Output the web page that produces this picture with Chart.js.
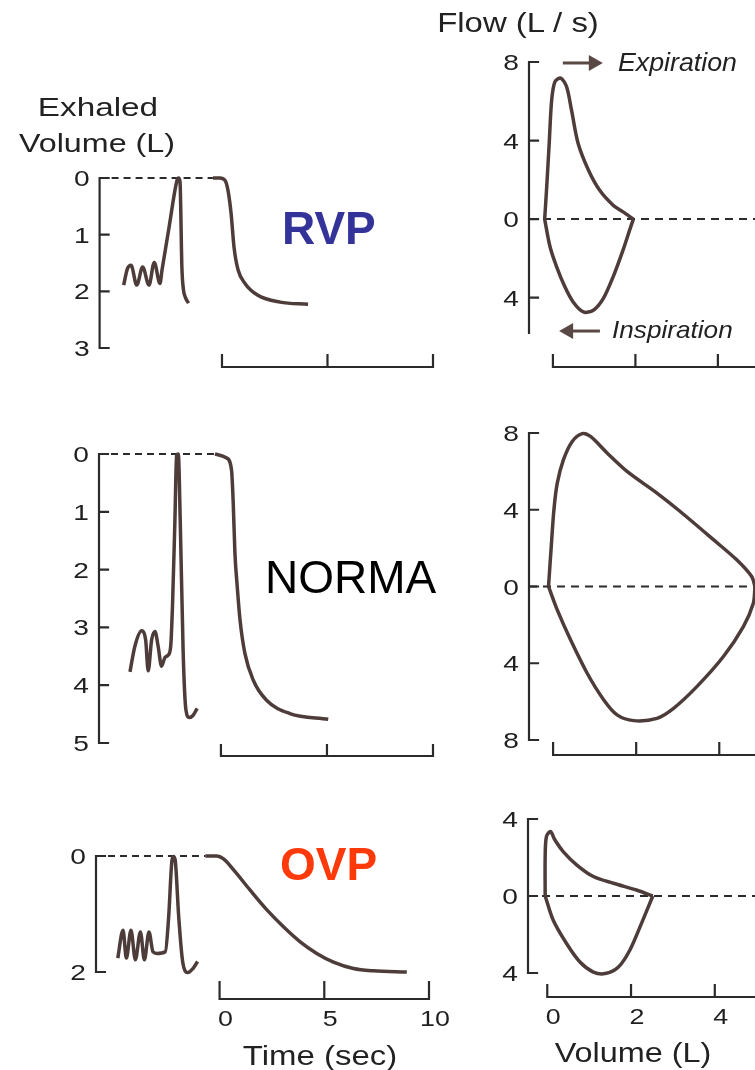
<!DOCTYPE html>
<html>
<head>
<meta charset="utf-8">
<script src="https://cdn.jsdelivr.net/npm/chart.js@4.4.1/dist/chart.umd.min.js"></script>
<style>
  body { margin: 0; background: #fff; }
  #page { position: relative; width: 755px; height: 1070px; overflow: hidden;
          font-family: "Liberation Sans", Arial, sans-serif; color: #222; }
  #page canvas { position: absolute; left: 0; top: 0; }
  .lbl { position: absolute; line-height: 1; white-space: nowrap; }
  .ctr { width: 300px; text-align: center; transform-origin: 50% 50%; }
  .lft { transform-origin: 0 50%; }
</style>
</head>
<body>
<div id="page">
  <canvas id="rvpSpiro" width="755" height="1070"></canvas>
  <canvas id="normSpiro" width="755" height="1070"></canvas>
  <canvas id="ovpSpiro" width="755" height="1070"></canvas>
  <canvas id="rvpLoop" width="755" height="1070"></canvas>
  <canvas id="normLoop" width="755" height="1070"></canvas>
  <canvas id="ovpLoop" width="755" height="1070"></canvas>

  <div class="lbl ctr" style="left:-52px;top:94px;font-size:26px;transform:scaleX(1.28)">Exhaled</div>
  <div class="lbl ctr" style="left:-53px;top:130px;font-size:26px;transform:scaleX(1.24)">Volume (L)</div>
  <div class="lbl ctr" style="left:368px;top:10px;font-size:27px;transform:scaleX(1.22)">Flow (L / s)</div>
  <div class="lbl lft" style="left:282px;top:205px;font-size:46px;font-weight:bold;color:#333399">RVP</div>
  <div class="lbl lft" style="left:265px;top:554px;font-size:46px;color:#000">NORMA</div>
  <div class="lbl lft" style="left:280px;top:841px;font-size:46px;font-weight:bold;color:#ff3a0a">OVP</div>
  <div class="lbl lft" style="left:618px;top:50px;font-size:25px;font-style:italic;transform:scaleX(1.07)">Expiration</div>
  <div class="lbl lft" style="left:612px;top:318px;font-size:24px;font-style:italic;transform:scaleX(1.09)">Inspiration</div>
  <div class="lbl ctr" style="left:170px;top:1043px;font-size:27px;transform:scaleX(1.22)">Time (sec)</div>
  <div class="lbl ctr" style="left:483px;top:1040px;font-size:27px;transform:scaleX(1.2)">Volume (L)</div>
</div>

<script>
// ---- volume / time traces (seconds, litres exhaled) ----
const rvpTidalTime = [-4.66, -4.48, -4.31, -4.04, -3.76, -3.46, -3.21, -2.94, -2.84, -2.5, -2.13, -2.06, -1.99, -1.9, -1.83, -1.72, -1.58];
const rvpTidalVol  = [1.89, 1.6, 1.54, 1.89, 1.57, 1.89, 1.49, 1.86, 1.62, 0.85, 0.04, 0, 0.06, 1.58, 1.96, 2.12, 2.21];
const rvpForcedTime = [-0.43, -0.1, 0.14, 0.28, 0.43, 0.57, 0.76, 1.09, 1.7, 2.75, 4.08];
const rvpForcedVol  = [0, 0, 0.04, 0.21, 0.62, 1.22, 1.62, 1.86, 2.07, 2.19, 2.23];

const normTidalTime = [-4.29, -4.06, -3.74, -3.55, -3.43, -3.27, -3.11, -2.96, -2.8, -2.64, -2.49, -2.37, -2.28, -2.17, -2.09, -2.01, -1.92, -1.78, -1.65, -1.49, -1.31, -1.12];
const normTidalVol  = [3.77, 3.33, 3.06, 3.22, 3.75, 3.22, 3.07, 3.33, 3.67, 3.52, 3.48, 3.33, 2.58, 1.14, 0.02, 0, 1.14, 3.45, 4.43, 4.56, 4.52, 4.4];
const normForcedTime = [-0.28, 0.27, 0.5, 0.58, 0.66, 0.77, 0.9, 1.13, 1.52, 2.15, 3.25, 5.06];
const normForcedVol  = [0, 0.07, 0.28, 0.85, 1.72, 2.3, 2.87, 3.45, 3.91, 4.26, 4.49, 4.59];

const ovpTidalTime = [-4.86, -4.61, -4.45, -4.23, -4.02, -3.78, -3.59, -3.37, -3.18, -2.99, -2.59, -2.43, -2.27, -2.19, -2.11, -1.95, -1.75, -1.51, -1.27, -1.05];
const ovpTidalVol  = [1.76, 1.28, 1.76, 1.28, 1.79, 1.31, 1.79, 1.31, 1.65, 1.68, 1.65, 1.05, 0.07, 0.01, 0.1, 1.05, 1.85, 2.01, 1.94, 1.82];
const ovpForcedTime = [-0.68, -0.13, 0.19, 0.67, 1.46, 2.26, 3.05, 3.85, 4.64, 5.44, 6.39, 7.34, 8.94];
const ovpForcedVol  = [0, 0, 0.05, 0.24, 0.59, 0.93, 1.22, 1.48, 1.68, 1.83, 1.94, 1.98, 2.0];

// ---- flow / volume loops (litres, L/s; inspiration negative) ----
const rvpExpVol   = [-0.2, -0.15, -0.09, -0.03, 0.05, 0.19, 0.33, 0.45, 0.61, 0.86, 1.13, 1.46, 1.7, 1.95];
const rvpExpFlow  = [0, 1.65, 3.86, 6.07, 7.0, 7.18, 6.75, 5.56, 3.86, 2.5, 1.48, 0.71, 0.37, 0];
const rvpInspVol  = [-0.2, -0.07, 0.09, 0.29, 0.49, 0.74, 0.98, 1.22, 1.46, 1.7, 1.86, 1.95];
const rvpInspFlow = [0, -1.41, -2.43, -3.45, -4.22, -4.73, -4.64, -4.05, -2.94, -1.58, -0.56, 0];

const normExpVol   = [-0.11, -0.05, 0.02, 0.1, 0.25, 0.46, 0.7, 0.9, 1.3, 1.78, 2.5, 3.06, 3.86, 4.42, 4.78, 4.86];
const normExpFlow  = [0, 1.91, 4.0, 5.39, 6.61, 7.56, 7.97, 7.82, 6.96, 6.0, 4.87, 3.91, 2.44, 1.39, 0.52, 0];
const normInspVol  = [-0.11, 0.1, 0.42, 0.82, 1.22, 1.54, 1.94, 2.5, 2.9, 3.46, 4.1, 4.58, 4.82, 4.86];
const normInspFlow = [0, -1.22, -2.78, -4.52, -5.91, -6.69, -6.99, -6.87, -6.35, -5.22, -3.65, -2.09, -0.87, 0];

const ovpExpVol   = [-0.05, -0.05, -0.02, 0.08, 0.18, 0.38, 0.7, 1.1, 1.58, 2.13, 2.52];
const ovpExpFlow  = [0, 2.05, 3.09, 3.35, 2.92, 2.31, 1.62, 1.01, 0.66, 0.31, 0];
const ovpInspVol  = [-0.05, 0.14, 0.46, 0.78, 1.1, 1.38, 1.7, 1.97, 2.25, 2.52];
const ovpInspFlow = [0, -1.25, -2.47, -3.43, -3.95, -4.03, -3.69, -2.82, -1.42, 0];

// ---- tick values ----
const rvpVolTicks  = [0, 1, 2, 3];
const normVolTicks = [0, 1, 2, 3, 4, 5];
const ovpVolTicks  = [0, 2];
const timeTicks    = [0, 5, 10];
const rvpFlowTicks  = [8, 4, 0, -4];
const normFlowTicks = [8, 4, 0, -4, -8];
const ovpFlowTicks  = [4, 0, -4];
const volumeTicks   = [0, 2, 4];

const CURVE = '#4d3c39';
const AXIS = '#2b2b2b';
const INK = '#1f1f1f';

const pts = (xs, ys) => xs.map((v, i) => ({ x: v, y: ys[i] }));

function stretchText(ctx, txt, x, y, align, sx) {
  ctx.save();
  ctx.translate(x, y);
  ctx.scale(sx, 1);
  ctx.textAlign = align;
  ctx.fillText(txt, 0, 0);
  ctx.restore();
}

function arrow(ctx, x0, y0, x1, y1) {
  const dir = Math.sign(x1 - x0);
  ctx.beginPath();
  ctx.moveTo(x0, y0);
  ctx.lineTo(x1 - dir * 12, y1);
  ctx.stroke();
  ctx.beginPath();
  ctx.moveTo(x1, y1);
  ctx.lineTo(x1 - dir * 14, y1 - 8);
  ctx.lineTo(x1 - dir * 14, y1 + 8);
  ctx.closePath();
  ctx.fill();
}

// bracket-style axes: inward ticks on the left, detached baseline underneath
const panelAxes = {
  id: 'panelAxes',
  beforeDatasetsDraw(chart, args, opts) {
    const { ctx, chartArea: a } = chart;
    const x = chart.scales.x, y = chart.scales.y;
    ctx.save();
    ctx.strokeStyle = AXIS;
    ctx.fillStyle = INK;
    ctx.lineWidth = 2.2;
    ctx.lineCap = 'square';
    ctx.font = '22px "Liberation Sans", Arial, sans-serif';

    ctx.beginPath();
    ctx.moveTo(a.left, a.top);
    ctx.lineTo(a.left, a.bottom);
    opts.yTicks.forEach(v => {
      const py = y.getPixelForValue(v);
      ctx.moveTo(a.left, py);
      ctx.lineTo(a.left + 9, py);
    });
    ctx.stroke();
    opts.yTicks.forEach(v => {
      stretchText(ctx, String(Math.abs(v)), a.left - 10, y.getPixelForValue(v) + 8, 'right', 1.28);
    });

    const base = a.bottom + opts.axisGap;
    const first = x.getPixelForValue(opts.xTicks[0]);
    const last = opts.toEdge ? a.right : x.getPixelForValue(opts.xTicks[opts.xTicks.length - 1]);
    ctx.beginPath();
    ctx.moveTo(first, base);
    ctx.lineTo(last, base);
    opts.xTicks.forEach(v => {
      const px = x.getPixelForValue(v);
      ctx.moveTo(px, base);
      ctx.lineTo(px, base - opts.tickLen);
    });
    ctx.stroke();
    if (opts.xLabels) {
      opts.xTicks.forEach(v => {
        stretchText(ctx, String(v), x.getPixelForValue(v) + 6, base + 27, 'center', 1.22);
      });
    }

    ctx.fillStyle = '#5a4844';
    ctx.strokeStyle = '#5a4844';
    ctx.lineWidth = 3;
    ctx.lineCap = 'butt';
    (opts.arrows || []).forEach(ar => {
      arrow(ctx, x.getPixelForValue(ar.from[0]), y.getPixelForValue(ar.from[1]),
                 x.getPixelForValue(ar.to[0]), y.getPixelForValue(ar.to[1]));
    });
    ctx.restore();
  }
};

function traceSet(data, smooth) {
  return {
    data,
    borderColor: CURVE,
    borderWidth: 3.5,
    pointRadius: 0,
    fill: false,
    clip: false,
    cubicInterpolationMode: smooth,
    tension: 0.3
  };
}

function zeroLine(data, dash) {
  return {
    data,
    borderColor: AXIS,
    borderWidth: 2,
    borderDash: dash,
    pointRadius: 0,
    fill: false,
    clip: false,
    tension: 0
  };
}

function makePanel(id, box, xr, yr, datasets, axes) {
  new Chart(document.getElementById(id), {
    type: 'line',
    data: { datasets },
    options: {
      responsive: false,
      animation: false,
      devicePixelRatio: 1,
      events: [],
      layout: { padding: { left: box[0], top: box[1], right: 755 - box[2], bottom: 1070 - box[3] } },
      scales: {
        x: { type: 'linear', display: false, min: xr[0], max: xr[1] },
        y: { type: 'linear', display: false, min: yr[0], max: yr[1], reverse: !!yr[2] }
      },
      plugins: { legend: { display: false }, tooltip: { enabled: false }, panelAxes: axes }
    },
    plugins: [panelAxes]
  });
}

// spirograms: tidal breathing, then the forced exhalation on the time axis
function spiroPanel(id, box, xr, yr, tT, tV, fT, fV, yTicks, axisGap, tickLen, xLabels) {
  makePanel(id, box, xr, yr, [
    traceSet(pts(tT, tV), 'monotone'),
    traceSet(pts(fT, fV), 'monotone'),
    zeroLine([{ x: xr[0], y: 0 }, { x: fT[0], y: 0 }], [7, 5])
  ], { yTicks, xTicks: timeTicks, axisGap, tickLen, xLabels, toEdge: false });
}

function loopPanel(id, box, xr, yr, eV, eF, iV, iF, yTicks, axisGap, xLabels, arrows) {
  makePanel(id, box, xr, yr, [
    traceSet(pts(eV, eF), 'default'),
    traceSet(pts(iV, iF), 'default'),
    zeroLine([{ x: xr[0], y: 0 }, { x: xr[1], y: 0 }], [8, 6])
  ], { yTicks, xTicks: volumeTicks, axisGap, tickLen: 12, xLabels, toEdge: true, arrows });
}

spiroPanel('rvpSpiro', [99.6, 178, 433, 348], [-5.8, 10], [0, 3, true],
  rvpTidalTime, rvpTidalVol, rvpForcedTime, rvpForcedVol, rvpVolTicks, 19, 12, false);
spiroPanel('normSpiro', [99, 454, 433, 743], [-5.75, 10], [0, 5, true],
  normTidalTime, normTidalVol, normForcedTime, normForcedVol, normVolTicks, 13, 11, false);
spiroPanel('ovpSpiro', [96, 856, 429, 972], [-5.9, 10], [0, 2, true],
  ovpTidalTime, ovpTidalVol, ovpForcedTime, ovpForcedVol, ovpVolTicks, 27, 17, true);

loopPanel('rvpLoop', [529, 62, 755, 333], [-0.58, 4.9], [-5.8, 8],
  rvpExpVol, rvpExpFlow, rvpInspVol, rvpInspFlow, rvpFlowTicks, 34, false,
  [{ from: [0.24, 7.95], to: [1.21, 7.95] }, { from: [1.14, -5.7], to: [0.15, -5.7] }]);
loopPanel('normLoop', [529, 433, 755, 740], [-0.58, 4.86], [-8, 8],
  normExpVol, normExpFlow, normInspVol, normInspFlow, normFlowTicks, 15, false, []);
loopPanel('ovpLoop', [528, 819, 755, 973], [-0.46, 4.96], [-4, 4],
  ovpExpVol, ovpExpFlow, ovpInspVol, ovpInspFlow, ovpFlowTicks, 24, true, []);
</script>
</body>
</html>
